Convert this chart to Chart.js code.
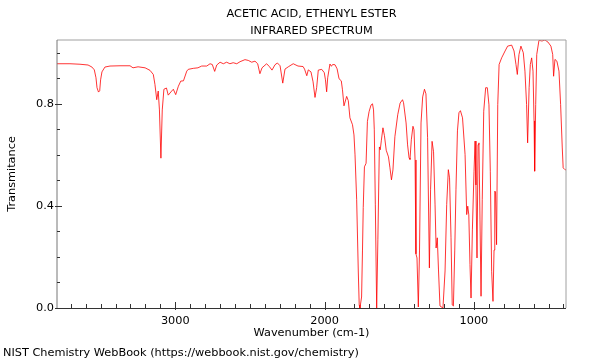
<!DOCTYPE html>
<html>
<head>
<meta charset="utf-8">
<title>Acetic acid, ethenyl ester - IR spectrum</title>
<script src="https://cdn.jsdelivr.net/npm/chart.js"></script>
<style>
    html, body { margin: 0; padding: 0; background: #fff; }
    #wrap { width: 600px; height: 360px; }
</style>
</head>
<body>
<div id="wrap"><canvas id="spectrum" width="600" height="360"></canvas></div>
<script>
// wavenumber (cm-1) and transmittance
const wavenumbers = [
    3792, 3705, 3638, 3584, 3558, 3542, 3531, 3524, 3514, 3506,
    3500, 3491, 3471, 3437, 3370, 3303, 3283, 3249, 3202, 3169,
    3147, 3136, 3124, 3114, 3106, 3096, 3087, 3076, 3059, 3047,
    3024, 3013, 2997, 2979, 2963, 2945, 2923, 2913, 2879, 2848,
    2823, 2789, 2767, 2752, 2736, 2722, 2700, 2678, 2656, 2634,
    2612, 2588, 2566, 2533, 2511, 2488, 2466, 2448, 2433, 2419,
    2388, 2370, 2352, 2332, 2316, 2298, 2280, 2265, 2243, 2210,
    2178, 2144, 2134, 2119, 2109, 2091, 2077, 2064, 2053, 2042,
    2019, 2002, 1994, 1986, 1979, 1964, 1954, 1946, 1930, 1916,
    1903, 1888, 1880, 1870, 1852, 1841, 1830, 1813, 1803, 1796,
    1785, 1774, 1768, 1763, 1752, 1746, 1741, 1733, 1722, 1713,
    1702, 1689, 1679, 1672, 1667, 1660, 1651, 1643, 1633, 1627,
    1620, 1609, 1599, 1587, 1572, 1562, 1552, 1542, 1529, 1510,
    1494, 1478, 1471, 1454, 1444, 1434, 1428, 1419, 1408, 1401,
    1394, 1388, 1381, 1372, 1364, 1354, 1343, 1331, 1321, 1310,
    1298, 1290, 1280, 1270, 1260, 1253, 1245, 1237, 1227, 1207,
    1193, 1182, 1171, 1163, 1153, 1145, 1137, 1128, 1120, 1110,
    1100, 1090, 1076, 1059, 1048, 1041, 1034, 1026, 1019, 1010,
    999, 992, 986, 979, 972, 966, 959, 952, 944, 934,
    921, 910, 899, 890, 881, 872, 865, 860, 855, 848,
    840, 831, 814, 791, 774, 747, 731, 718, 709, 698,
    685, 669, 658, 647, 640, 630, 622, 613, 604, 597,
    593, 586, 579, 564, 544, 524, 504, 484, 472, 466,
    457, 444, 430, 419, 408, 402, 390, 383
];

const transmittance = [
    0.957, 0.957, 0.955, 0.952, 0.944, 0.933, 0.902, 0.863, 0.846, 0.851,
    0.894, 0.925, 0.944, 0.948, 0.949, 0.949, 0.941, 0.945, 0.941, 0.931,
    0.915, 0.876, 0.816, 0.850, 0.776, 0.587, 0.776, 0.857, 0.862, 0.834,
    0.850, 0.857, 0.836, 0.869, 0.889, 0.890, 0.928, 0.935, 0.939, 0.941,
    0.948, 0.948, 0.957, 0.954, 0.927, 0.952, 0.963, 0.957, 0.963, 0.957,
    0.961, 0.957, 0.965, 0.973, 0.970, 0.963, 0.967, 0.957, 0.918, 0.941,
    0.957, 0.946, 0.932, 0.953, 0.960, 0.949, 0.881, 0.936, 0.945, 0.957,
    0.948, 0.946, 0.936, 0.910, 0.933, 0.925, 0.886, 0.825, 0.863, 0.932,
    0.935, 0.922, 0.894, 0.847, 0.902, 0.956, 0.947, 0.954, 0.953, 0.937,
    0.898, 0.890, 0.855, 0.792, 0.829, 0.812, 0.745, 0.718, 0.678, 0.600,
    0.424, 0.141, 0.012, 0.000, 0.043, 0.227, 0.394, 0.553, 0.567, 0.731,
    0.769, 0.795, 0.800, 0.776, 0.698, 0.404, 0.000, 0.267, 0.631, 0.620,
    0.655, 0.706, 0.675, 0.618, 0.592, 0.549, 0.502, 0.541, 0.671, 0.757,
    0.803, 0.816, 0.804, 0.725, 0.639, 0.588, 0.582, 0.659, 0.712, 0.698,
    0.580, 0.212, 0.196, 0.004, 0.227, 0.725, 0.827, 0.857, 0.839, 0.667,
    0.157, 0.463, 0.653, 0.612, 0.404, 0.235, 0.275, 0.149, 0.008, 0.000,
    0.145, 0.405, 0.542, 0.510, 0.275, 0.012, 0.008, 0.227, 0.463, 0.694,
    0.765, 0.773, 0.745, 0.601, 0.366, 0.399, 0.365, 0.170, 0.039, 0.306,
    0.536, 0.654, 0.482, 0.196, 0.640, 0.647, 0.345, 0.046, 0.424, 0.771,
    0.863, 0.863, 0.796, 0.536, 0.144, 0.026, 0.227, 0.458, 0.455, 0.248,
    0.797, 0.954, 0.980, 1.007, 1.026, 1.030, 1.007, 0.954, 0.915, 0.993,
    1.026, 1.000, 0.928, 0.797, 0.647, 0.863, 0.954, 0.980, 0.928, 0.733,
    0.536, 0.797, 0.993, 1.049, 1.046, 1.050, 1.042, 1.026, 0.993, 0.908,
    0.974, 0.967, 0.928, 0.797, 0.627, 0.549, 0.542, 0.541
];

const xLabelTicks = [1000, 2000, 3000];
const yLabelTicks = [0.0, 0.4, 0.8];

const titleLines = ['ACETIC ACID, ETHENYL ESTER', 'INFRARED SPECTRUM'];
const xTitle = 'Wavenumber (cm-1)';
const yTitle = 'Transmitance';
const footerText = 'NIST Chemistry WebBook (https://webbook.nist.gov/chemistry)';

const X_MIN = 383, X_MAX = 3792;
const Y_MIN = 0, Y_MAX = 1.05;
const X_STEP = 100, Y_STEP = 0.1;
const FONT_SIZE = 11.3;
const FONT = FONT_SIZE + 'px "DejaVu Sans"';

function stepTicks(min, max, step) {
    const out = [];
    for (let k = Math.ceil(min / step - 1e-9); k * step <= max + 1e-9; k++) {
        out.push({ value: Math.round(k * step * 1000) / 1000 });
    }
    return out;
}

function isLabel(list, v) {
    return list.some(l => Math.abs(l - v) < 1e-6);
}

// frame, inward ticks and all the titles
const framePlugin = {
    id: 'frame',
    afterDraw(chart) {
        const { ctx, chartArea: a, scales } = chart;
        const x = scales.x, y = scales.y;
        ctx.save();

        ctx.lineWidth = 1;
        ctx.strokeStyle = '#a0a0a0';
        ctx.beginPath();
        ctx.moveTo(a.left, a.top);
        ctx.lineTo(a.right, a.top);
        ctx.lineTo(a.right, a.bottom);
        ctx.stroke();

        ctx.strokeStyle = '#777';
        ctx.beginPath();
        ctx.moveTo(a.left, a.top);
        ctx.lineTo(a.left, a.bottom);
        ctx.stroke();

        ctx.strokeStyle = '#333';
        ctx.beginPath();
        ctx.moveTo(a.left, a.bottom + 0.5);
        ctx.lineTo(a.right, a.bottom + 0.5);
        ctx.stroke();

        ctx.strokeStyle = '#333';
        ctx.beginPath();
        x.ticks.forEach(t => {
            const px = Math.round(x.getPixelForValue(t.value)) + 0.5;
            const major = isLabel(xLabelTicks, t.value);
            ctx.moveTo(px, a.bottom + (major ? 2 : 0));
            ctx.lineTo(px, a.bottom - (major ? 6 : 4));
        });
        y.ticks.forEach(t => {
            const py = Math.round(y.getPixelForValue(t.value)) + 0.5;
            const major = isLabel(yLabelTicks, t.value);
            ctx.moveTo(a.left - (major ? 2 : 0), py);
            ctx.lineTo(a.left + (major ? 5 : 3), py);
        });
        ctx.stroke();

        ctx.fillStyle = '#000';
        ctx.font = FONT;
        ctx.textBaseline = 'alphabetic';
        ctx.textAlign = 'center';
        const cx = (a.left + a.right) / 2;
        ctx.fillText(titleLines[0], cx, 17.3);
        ctx.fillText(titleLines[1], cx, 34.3);
        ctx.fillText(xTitle, cx, 336);

        ctx.textAlign = 'left';
        ctx.fillText(footerText, 3, 356);

        ctx.save();
        ctx.translate(14.5, (a.top + a.bottom) / 2);
        ctx.rotate(-Math.PI / 2);
        ctx.textAlign = 'center';
        ctx.fillText(yTitle, 0, 0);
        ctx.restore();

        ctx.restore();
    }
};

new Chart(document.getElementById('spectrum'), {
    type: 'line',
    data: {
        datasets: [{
            data: wavenumbers.map((w, i) => ({ x: w, y: transmittance[i] })),
            borderColor: '#ff0000',
            borderWidth: 0.8,
            pointRadius: 0,
            fill: false,
            tension: 0
        }]
    },
    options: {
        responsive: false,
        animation: false,
        events: [],
        layout: { padding: { top: 40, right: 34, left: 0, bottom: 0 } },
        plugins: {
            legend: { display: false },
            tooltip: { enabled: false },
            title: { display: false }
        },
        scales: {
            x: {
                type: 'linear',
                reverse: true,
                min: X_MIN,
                max: X_MAX,
                grid: { display: false, drawTicks: false },
                border: { display: false },
                afterBuildTicks: s => { s.ticks = stepTicks(s.min, s.max, X_STEP); },
                afterFit: s => { s.height = 52; },
                ticks: {
                    autoSkip: false,
                    maxRotation: 0,
                    padding: 6,
                    color: '#000',
                    font: { family: 'DejaVu Sans', size: FONT_SIZE },
                    callback: v => isLabel(xLabelTicks, v) ? String(v) : ''
                }
            },
            y: {
                type: 'linear',
                min: Y_MIN,
                max: Y_MAX,
                grid: { display: false, drawTicks: false },
                border: { display: false },
                afterBuildTicks: s => { s.ticks = stepTicks(s.min, s.max, Y_STEP); },
                afterFit: s => { s.width = 57; },
                ticks: {
                    autoSkip: false,
                    padding: 3,
                    color: '#000',
                    font: { family: 'DejaVu Sans', size: FONT_SIZE },
                    callback: v => isLabel(yLabelTicks, v) ? v.toFixed(1) : ''
                }
            }
        }
    },
    plugins: [framePlugin]
});
</script>
</body>
</html>
